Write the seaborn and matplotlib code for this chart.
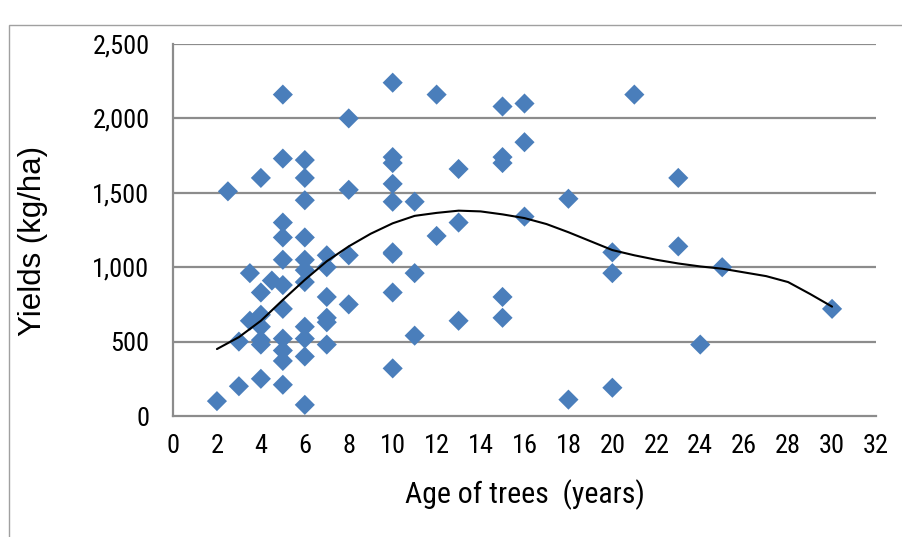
import numpy as np
import pandas as pd
import matplotlib
matplotlib.use("Agg")
import matplotlib.pyplot as plt
import seaborn as sns
from matplotlib import font_manager as fm
from matplotlib.patches import Rectangle
from matplotlib.ticker import FuncFormatter

# Tree age (years) and the matching yield (kg/ha) of each surveyed plot
age = [2, 2.5, 3, 3, 3.5, 3.5,
       4, 4, 4, 4, 4, 4, 4,
       4.5,
       5, 5, 5, 5, 5, 5, 5, 5, 5, 5, 5,
       6, 6, 6, 6, 6, 6, 6, 6, 6, 6, 6,
       7, 7, 7, 7, 7, 7,
       8, 8, 8, 8,
       10, 10, 10, 10, 10, 10, 10, 10, 10,
       11, 11, 11,
       12, 12,
       13, 13, 13,
       15, 15, 15, 15, 15,
       16, 16, 16,
       18, 18,
       20, 20, 20,
       21,
       23, 23,
       24, 25, 30]
yields = [100, 1510, 500, 200, 960, 640,
          1600, 830, 680, 600, 510, 480, 250,
          910,
          2160, 1730, 1300, 1200, 1050, 880, 720, 520, 440, 370, 210,
          1720, 1600, 1450, 1200, 1050, 980, 900, 600, 520, 400, 75,
          1080, 1000, 800, 660, 630, 480,
          2000, 1520, 1080, 750,
          2240, 1740, 1700, 1560, 1440, 1100, 1090, 830, 320,
          1440, 960, 540,
          2160, 1210,
          1660, 1300, 640,
          2080, 1740, 1700, 800, 660,
          2100, 1840, 1340,
          1460, 110,
          1100, 960, 190,
          2160,
          1600, 1140,
          480, 1000, 720]

# Trend line (polynomial trend of yield on age), one value per year of age
trend_age = list(range(2, 31))
trend_yield = [450, 530, 640, 780, 915, 1040, 1140, 1225, 1295, 1345,
               1365, 1380, 1375, 1355, 1330, 1290, 1235, 1175, 1115, 1080,
               1050, 1025, 1005, 990, 965, 940, 900, 820, 735]

x_ticks = list(range(0, 33, 2))
y_ticks = list(range(0, 2501, 500))

df = pd.DataFrame({"age": age, "yield": yields})
trend = pd.DataFrame({"age": trend_age, "yield": trend_yield})

sns.set_theme(style="white")
plt.rcParams["font.family"] = ["Liberation Sans", "DejaVu Sans"]

# pick a narrow sans face for the tick and x-axis labels when one exists
names = {f.name for f in fm.fontManager.ttflist}
narrow = None
for cand in ["Liberation Sans Narrow", "Arial Narrow", "Roboto Condensed",
             "Open Sans Condensed"]:
    if cand in names:
        narrow = cand
        break
if narrow is not None:
    tick_font = dict(family=[narrow, "Liberation Sans"], size=19)
    xlab_font = dict(family=[narrow, "Liberation Sans"], size=21.5)
else:
    tick_font = dict(family=["Liberation Sans"], size=17)
    xlab_font = dict(family=["Liberation Sans"], size=19)

fig = plt.figure(figsize=(9.02, 5.37), dpi=100)
W, H = 902, 537
ax = fig.add_axes([173 / W, 1 - 416 / H, (876 - 173) / W, (416 - 44) / H])

# outer chart frame
fig.add_artist(Rectangle((9 / W, -0.1), 1.2, (1 - 25 / H) + 0.1,
                         transform=fig.transFigure, fill=False,
                         edgecolor="#a0a0a0", linewidth=1.0))

grid_col = "#8c8c8c"
for yv in y_ticks[1:]:
    ax.axhline(yv, color=grid_col, linewidth=1.6, zorder=0)

sns.scatterplot(data=df, x="age", y="yield", marker="D", s=105,
                color="#4a7ebb", edgecolor="none", ax=ax, zorder=3)
sns.lineplot(data=trend, x="age", y="yield", color="black", linewidth=1.5,
             ax=ax, zorder=4)

ax.set_xlim(0, 32)
ax.set_ylim(0, 2500)
ax.set_xticks(x_ticks)
ax.set_yticks(y_ticks)
ax.yaxis.set_major_formatter(FuncFormatter(lambda v, p: f"{int(v):,}"))

for s in ["top", "right"]:
    ax.spines[s].set_visible(False)
for s in ["left", "bottom"]:
    ax.spines[s].set_color(grid_col)
    ax.spines[s].set_linewidth(1.6)

ax.tick_params(axis="both", direction="out", length=7, width=1.2,
               color=grid_col, labelcolor="black", pad=6)
ax.tick_params(axis="y", pad=10)
for lab in ax.get_xticklabels() + ax.get_yticklabels():
    lab.set_family(tick_font["family"])
    lab.set_size(tick_font["size"])

ax.set_xlabel("Age of trees  (years)", fontsize=xlab_font["size"],
              family=xlab_font["family"], labelpad=15, color="black")
ax.set_ylabel("Yields (kg/ha)", fontsize=22.5,
              family=["Liberation Sans", "DejaVu Sans"], color="black")
ax.yaxis.set_label_coords(-0.178, 0.47)

fig.savefig("out.png", dpi=100)
